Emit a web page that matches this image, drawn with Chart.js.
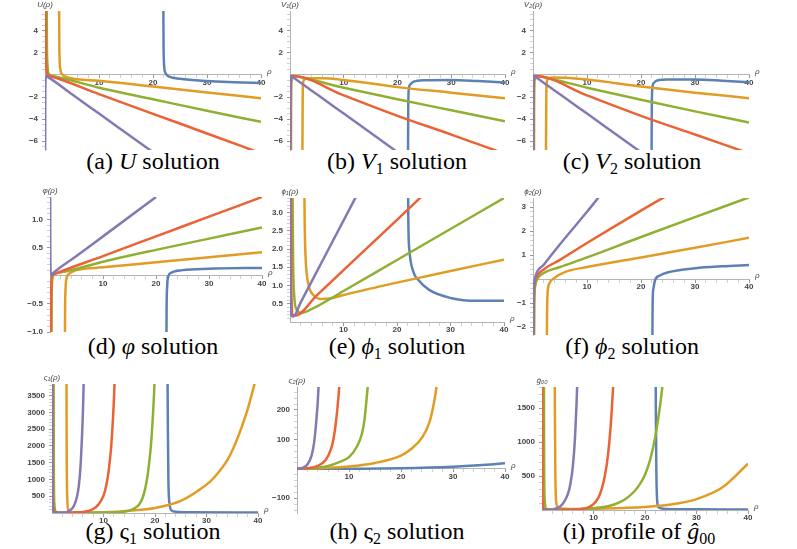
<!DOCTYPE html>
<html>
<head>
<meta charset="utf-8">
<script src="https://cdn.jsdelivr.net/npm/chart.js@4.4.1/dist/chart.umd.min.js"></script>
<style>
  body { margin: 0; background: #fff; }
  #page { position: relative; width: 797px; height: 549px; overflow: hidden; }
  canvas { position: absolute; }
  .cap { position: absolute; width: 270px; text-align: center; white-space: nowrap;
         font-family: 'Liberation Serif', Tinos, 'DejaVu Serif', 'Times New Roman', Times, serif;
         font-size: 24px; line-height: 28px; color: #000; }
  .cap sub { font-size: 16px; line-height: 0; vertical-align: -5px; }
</style>
</head>
<body>
<div id="page">
  <div class="cap" style="left:18px;top:147px">(a) <i>U</i> solution</div>
  <div class="cap" style="left:262px;top:147px">(b) <i>V</i><sub>1</sub> solution</div>
  <div class="cap" style="left:497px;top:147px">(c) <i>V</i><sub>2</sub> solution</div>
  <div class="cap" style="left:18px;top:332px">(d) <i>φ</i> solution</div>
  <div class="cap" style="left:262px;top:332px">(e) <i>ϕ</i><sub>1</sub> solution</div>
  <div class="cap" style="left:497px;top:332px">(f) <i>ϕ</i><sub>2</sub> solution</div>
  <div class="cap" style="left:18px;top:517px">(g) ς<sub>1</sub> solution</div>
  <div class="cap" style="left:262px;top:517px">(h) ς<sub>2</sub> solution</div>
  <div class="cap" style="left:504px;top:517px">(i) profile of <i>ĝ</i><sub>00</sub></div>
</div>
<script>
// series order in every panel: blue, orange, green, red, purple  -> [rho, value]

// (a) U
const uBlue = [[21.9,8],[21.95,3],[22.0,1.5],[22.1,0.6],[22.4,0.1],[23,-0.15],[25,-0.35],[30,-0.55],[35,-0.65],[40,-0.72]];
const uOrange = [[2.6,8],[2.65,3],[2.7,1.5],[2.85,0.5],[3.2,0.05],[4,-0.2],[10,-0.52],[20,-1.05],[30,-1.58],[40,-2.1]];
const uGreen = [[0.3,8],[0.35,3],[0.45,1],[0.7,0.1],[1.5,-0.12],[10,-1.15],[20,-2.2],[30,-3.25],[40,-4.25]];
const uRed = [[0.1,8],[0.13,3],[0.22,0.8],[0.45,0.05],[1,-0.12],[10,-1.73],[20,-3.52],[30,-5.3],[40,-7.1]];
const uPurple = [[0.02,-8],[0.05,-2],[0.1,-0.5],[0.2,-0.1],[0.5,-0.17],[5,-1.75],[10,-3.5],[20,-7]];

// (b) V1
const v1Blue = [[21.95,-8],[22.0,-3],[22.1,-1.3],[22.4,-0.85],[23,-0.6],[25,-0.47],[30,-0.45],[35,-0.55],[40,-0.68]];
const v1Orange = [[2.3,-8],[2.35,-3],[2.4,-1],[2.6,-0.45],[3.5,-0.3],[6,-0.3],[10,-0.45],[20,-1.1],[30,-1.6],[40,-2.1]];
const v1Green = [[0.18,-8],[0.2,-3],[0.3,-0.5],[0.6,-0.1],[1,-0.12],[10,-1.15],[20,-2.2],[30,-3.2],[40,-4.2]];
const v1Red = [[0.08,-8],[0.1,-3],[0.2,-0.3],[0.5,-0.1],[10,-1.85],[20,-3.7],[30,-5.4],[40,-7.15]];
const v1Purple = [[0.02,-8],[0.05,-2],[0.1,-0.3],[0.2,-0.07],[0.5,-0.18],[5,-1.75],[10,-3.5],[20,-7]];

// (c) V2
const v2Blue = [[21.95,-8],[22.0,-3],[22.1,-1.2],[22.4,-0.7],[23,-0.5],[25,-0.42],[30,-0.42],[35,-0.52],[40,-0.66]];
const v2Orange = [[2.4,-8],[2.45,-3],[2.5,-1],[2.7,-0.4],[3.5,-0.22],[6,-0.25],[10,-0.42],[20,-1.05],[30,-1.6],[40,-2.1]];
const v2Green = [[0.18,-8],[0.2,-3],[0.3,-0.5],[0.6,-0.1],[1,-0.12],[10,-1.15],[20,-2.25],[30,-3.3],[40,-4.3]];
const v2Red = [[0.08,-8],[0.1,-3],[0.2,-0.3],[0.5,-0.1],[10,-1.85],[20,-3.7],[30,-5.4],[40,-7.1]];
const v2Purple = [[0.02,-8],[0.05,-2],[0.1,-0.3],[0.2,-0.07],[0.5,-0.18],[5,-1.75],[10,-3.5],[20,-7]];

// (d) varphi
const phBlue = [[21.95,-1.5],[22.0,-0.6],[22.1,-0.2],[22.3,-0.02],[22.8,0.05],[25,0.1],[30,0.125],[40,0.14]];
const phOrange = [[2.8,-1.5],[2.85,-0.6],[2.95,-0.2],[3.2,-0.02],[3.8,0.05],[5,0.1],[10,0.15],[20,0.24],[30,0.33],[40,0.42]];
const phGreen = [[0.28,-1.5],[0.3,-0.6],[0.4,-0.1],[0.7,0.02],[2,0.06],[10,0.25],[20,0.46],[30,0.66],[40,0.86]];
const phRed = [[0.15,-1.5],[0.2,-0.5],[0.3,-0.05],[0.6,0.02],[10,0.35],[20,0.7],[30,1.05],[40,1.4]];
const phPurple = [[0.02,2],[0.05,0.6],[0.1,0.1],[0.2,0.01],[0.5,0.04],[5,0.35],[10,0.7],[20,1.4]];

// (e) phi1
const p1Blue = [[22.05,5],[22.1,3],[22.3,2],[23,1.4],[24,1.15],[26,0.88],[30,0.66],[35,0.58],[40,0.58]];
const p1Orange = [[2.65,5],[2.7,3.4],[2.8,2.3],[3,1.55],[3.5,1.0],[4.5,0.72],[6,0.63],[8,0.66],[10,0.74],[20,1.08],[30,1.4],[40,1.71]];
const p1Green = [[0.45,5],[0.5,3],[0.6,1.5],[0.8,0.7],[1.2,0.35],[2,0.25],[4,0.35],[10,0.85],[20,1.7],[30,2.55],[40,3.4]];
const p1Red = [[0.15,5],[0.2,2],[0.3,0.6],[0.5,0.2],[1,0.18],[5,0.73],[10,1.42],[20,2.8],[25,3.5]];
const p1Purple = [[0.03,5],[0.05,2],[0.1,0.6],[0.3,0.17],[0.6,0.15],[2,0.54],[6,1.66],[12,3.34],[13,3.62]];

// (f) phi2
const p2Blue = [[22.1,-3],[22.15,-1],[22.3,-0.4],[22.6,-0.05],[23.5,0.15],[25,0.28],[30,0.45],[35,0.53],[40,0.58]];
const p2Orange = [[2.55,-3],[2.6,-1.5],[2.7,-0.6],[3,-0.2],[4,0.05],[6,0.3],[10,0.5],[20,0.9],[30,1.3],[40,1.72]];
const p2Green = [[0.2,-3],[0.25,-1],[0.4,-0.3],[0.8,0],[2,0.25],[5,0.5],[10,0.9],[20,1.75],[30,2.58],[40,3.4]];
const p2Red = [[0.1,-3],[0.15,-1],[0.3,-0.2],[0.7,0.1],[2,0.4],[5,0.8],[10,1.5],[20,2.85],[25,3.5]];
const p2Purple = [[0.05,-3],[0.08,-1],[0.2,-0.2],[0.5,0.15],[2,0.6],[5,1.45],[10,2.8],[12.5,3.5]];

// (g) varsigma1
const s1Blue = [[22.4,5000],[22.5,2500],[22.6,1000],[22.8,300],[23.2,80],[24,40],[27,25],[40,15]];
const s1Orange = [[2.8,5000],[2.85,2000],[2.95,500],[3.2,60],[4,12],[10,25],[15,70],[20,150],[25,360],[28.7,700],[31.3,1030],[34.6,1730],[37.8,3000],[39.5,3950]];
const s1Green = [[0.3,5000],[0.35,1500],[0.45,300],[0.8,30],[2,5],[6,8],[10,12],[12,18],[14,40],[15,70],[16,140],[17,270],[17.7,500],[18.3,880],[18.8,1400],[19.3,2200],[19.8,3500],[20.1,4600]];
const s1Red = [[0.05,5000],[0.1,1500],[0.2,300],[0.5,30],[2,5],[4,12],[6,30],[7,60],[8,120],[9,250],[10,520],[10.5,800],[11,1250],[11.5,2000],[12,3300],[12.2,4100]];
const s1Purple = [[0.02,5000],[0.05,1500],[0.1,300],[0.3,30],[1,5],[2,10],[3,35],[4,150],[4.5,300],[4.9,520],[5.2,800],[5.5,1300],[5.8,2200],[6.0,3000],[6.2,4200]];

// (h) varsigma2
const s2Blue = [[0,0],[10,0.5],[20,2],[30,7],[35,12],[40,19]];
const s2Orange = [[0,0],[5,3],[10,8],[15,20],[20,45],[22,68],[24,105],[25.5,160],[26.5,240],[27,300]];
const s2Green = [[0,0],[3,2],[6,10],[8,22],[10,40],[11.5,75],[12.5,120],[13,170],[13.5,260],[13.7,300]];
const s2Red = [[0,0],[2,2],[4,10],[5.5,30],[6.5,65],[7,100],[7.5,160],[8,250],[8.2,300]];
const s2Purple = [[0,0],[1,3],[2,15],[2.8,45],[3.3,90],[3.7,160],[4,230],[4.2,300]];

// (i) g00 profile
const gBlue = [[22.0,3000],[22.1,1500],[22.2,600],[22.35,150],[22.6,40],[24,15],[30,10],[40,8]];
const gOrange = [[2.45,3000],[2.5,1500],[2.6,500],[2.8,100],[3.2,25],[6,15],[10,20],[20,45],[25,80],[30,160],[35,330],[40,680]];
const gGreen = [[0.35,3000],[0.4,1000],[0.5,200],[0.8,20],[2,5],[10,25],[14,80],[16,150],[18,280],[19,380],[20,520],[21,740],[22,1080],[23,1580],[23.5,1900]];
const gRed = [[0.03,3000],[0.05,1000],[0.1,200],[0.3,20],[1,5],[4,5],[6,8],[8,20],[9,40],[10,85],[11,190],[11.6,310],[12.2,500],[12.8,800],[13.3,1200],[13.8,1800],[14,2100]];
const gPurple = [[0,0],[2,8],[3,30],[4,90],[5,230],[5.5,380],[6,650],[6.4,1050],[6.7,1550],[6.9,2000]];

const colors = ['#5E81B5', '#E19C24', '#8FB032', '#EB6235', '#8778B3'];

// plot boxes in page pixels: [left, top, right, bottom]
const panels = [
  { box: [45, 11, 261, 150], y: [-6.8, 5.8], step: 2, minor: 0.5, dec: 0, name: 'U(ρ)', series: [uBlue, uOrange, uGreen, uRed, uPurple] },
  { box: [290, 11, 505, 150], y: [-6.8, 5.8], step: 2, minor: 0.5, dec: 0, name: 'V₁(ρ)', series: [v1Blue, v1Orange, v1Green, v1Red, v1Purple] },
  { box: [533, 11, 749, 150], y: [-6.8, 5.8], step: 2, minor: 0.5, dec: 0, name: 'V₂(ρ)', series: [v2Blue, v2Orange, v2Green, v2Red, v2Purple] },
  { box: [50, 197, 262, 332], y: [-1.0, 1.4], step: 0.5, minor: 0.1, dec: 1, name: 'φ(ρ)', series: [phBlue, phOrange, phGreen, phRed, phPurple] },
  { box: [290, 198, 504, 322], y: [0, 3.4], step: 0.5, minor: 0.1, dec: 1, name: 'ϕ₁(ρ)', series: [p1Blue, p1Orange, p1Green, p1Red, p1Purple] },
  { box: [533, 198, 749, 335], y: [-2.33, 3.375], step: 1, minor: 0.2, dec: 0, name: 'ϕ₂(ρ)', series: [p2Blue, p2Orange, p2Green, p2Red, p2Purple] },
  { box: [52, 384, 258, 513], y: [0, 3850], step: 500, minor: 100, dec: 0, name: 'ς₁(ρ)', series: [s1Blue, s1Orange, s1Green, s1Red, s1Purple] },
  { box: [297, 387, 505, 513], y: [-150, 278], step: 100, minor: 20, dec: 0, name: 'ς₂(ρ)', series: [s2Blue, s2Orange, s2Green, s2Red, s2Purple] },
  { box: [542, 387, 748, 510], y: [0, 1810], step: 500, minor: 100, dec: 0, name: 'ĝ₀₀', series: [gBlue, gOrange, gGreen, gRed, gPurple] },
];

// room round each plot box; the left part is taken by the y axis itself
const room = { left: 40, top: 14, right: 22, bottom: 16 };

// axis names: y name on top of the vertical axis, rho at the end of the horizontal one
const axisNames = {
  id: 'axisNames',
  afterDraw(chart, args, opts) {
    const { ctx, chartArea, scales } = chart;
    const x0 = scales.x.getPixelForValue(0);
    const y0 = scales.y.getPixelForValue(0);
    ctx.save();
    ctx.fillStyle = '#444';
    ctx.font = 'italic 8px "Liberation Sans", sans-serif';
    ctx.textAlign = 'center';
    ctx.textBaseline = 'bottom';
    ctx.fillText(opts.name, x0, chartArea.top - 2);
    ctx.textAlign = 'left';
    ctx.textBaseline = 'middle';
    ctx.fillText('ρ', chartArea.right + 6, y0 - 3);
    ctx.restore();
  }
};

const fmt = (v, dec) => (v < 0 ? '\u2212' : '') + Math.abs(v).toFixed(dec);
const isMajor = (v, step) => Math.abs(v / step - Math.round(v / step)) < 1e-6;

function tickList(min, max, minor) {
  const out = [];
  for (let k = Math.ceil(min / minor - 1e-9); k * minor <= max + 1e-9; k++) {
    const v = +(k * minor).toFixed(6);
    if (v !== 0) out.push({ value: v });
  }
  return out;
}

const page = document.getElementById('page');
const tickFont = { family: '"Liberation Sans", sans-serif', size: 8, weight: 'bold' };

panels.forEach((p) => {
  const [L, T, R, B] = p.box;
  const canvas = document.createElement('canvas');
  canvas.width = R - L + room.left + room.right;
  canvas.height = B - T + room.top + room.bottom;
  canvas.style.left = (L - room.left) + 'px';
  canvas.style.top = (T - room.top) + 'px';
  page.appendChild(canvas);

  new Chart(canvas, {
    type: 'line',
    data: {
      datasets: p.series.map((s, i) => ({
        data: s.map(([x, y]) => ({ x, y })),
        borderColor: colors[i],
        borderWidth: 2.5,
        pointRadius: 0,
        cubicInterpolationMode: 'monotone',
        fill: false,
        order: 4 - i,
      })),
    },
    options: {
      responsive: false,
      animation: false,
      devicePixelRatio: 1,
      layout: { padding: { left: 0, top: room.top, right: room.right, bottom: room.bottom } },
      plugins: { legend: { display: false }, tooltip: { enabled: false }, axisNames: { name: p.name } },
      scales: {
        x: {
          type: 'linear', min: 0, max: 40,
          position: { y: 0 },
          afterFit: (s) => { s.height = 0; },
          afterBuildTicks: (s) => { s.ticks = tickList(0, 40, 2); },
          border: { display: true, color: '#b4b4b4', width: 1 },
          grid: { drawOnChartArea: false, drawTicks: true, tickLength: 3, color: 'transparent',
                  tickColor: (c) => (c.tick && isMajor(c.tick.value, 10) ? '#999' : '#d0d0d0') },
          ticks: { autoSkip: false, maxRotation: 0, padding: 0, color: '#444', font: tickFont,
                   callback: (v) => (isMajor(v, 10) ? String(v) : '') },
        },
        y: {
          type: 'linear', min: p.y[0], max: p.y[1],
          position: 'left',
          afterFit: (s) => { s.width = room.left; },
          afterBuildTicks: (s) => { s.ticks = tickList(p.y[0], p.y[1], p.minor); },
          border: { display: true, color: '#b4b4b4', width: 1 },
          grid: { drawOnChartArea: false, drawTicks: true, tickLength: 3, color: 'transparent',
                  tickColor: (c) => (c.tick && isMajor(c.tick.value, p.step) ? '#999' : '#d0d0d0') },
          ticks: { autoSkip: false, padding: 4, color: '#444', font: tickFont,
                   callback: (v) => (isMajor(v, p.step) ? fmt(v, p.dec) : '') },
        },
      },
    },
    plugins: [axisNames],
  });
});
</script>
</body>
</html>
